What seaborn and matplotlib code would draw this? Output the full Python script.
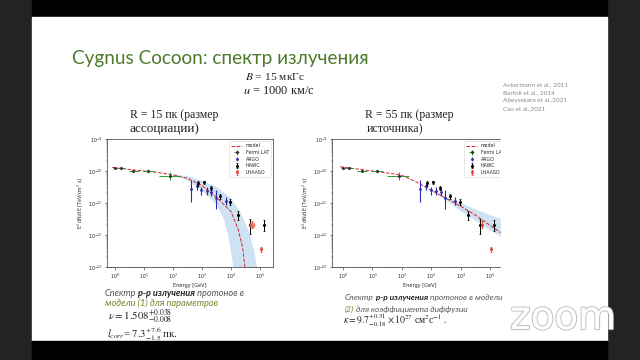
import numpy as np
import pandas as pd
import matplotlib
matplotlib.use("Agg")
import matplotlib.pyplot as plt
import seaborn as sns
from matplotlib.patches import Rectangle
from matplotlib.lines import Line2D
from matplotlib import patheffects as pe

sns.set_style("white")
plt.rcParams['font.family'] = ['Lato', 'DejaVu Sans']

# ---------------- data ----------------
fermi_E = [1.0, 1.6, 4.3, 14, 80]
fermi_Elo = [0.85, 1.25, 3.0, 9.0, 32]
fermi_Ehi = [1.25, 2.2, 6.5, 22, 180]
fermi_F = [1.26e-10, 1.2e-10, 1.0e-10, 1.0e-10, 6.9e-11]
fermi_Flo = [1.18e-10, 1.12e-10, 0.93e-10, 0.88e-10, 5.3e-11]
fermi_Fhi = [1.34e-10, 1.28e-10, 1.08e-10, 1.14e-10, 9.0e-11]

argo_E = [400, 660, 950, 1450, 2100, 2950, 6600]
argo_F = [2.8e-11, 3.4e-11, 2.5e-11, 2.4e-11, 2.2e-11, 1.4e-11, 1.17e-11]
argo_Flo = [1.05e-11, 2.5e-11, 1.8e-11, 1.8e-11, 1.7e-11, 6.5e-12, 8.5e-12]
argo_Fhi = [5.2e-11, 4.3e-11, 3.2e-11, 3.1e-11, 2.7e-11, 2.5e-11, 1.5e-11]

hawc_E = [710, 1170, 2000, 4300, 9300, 18000, 44000, 132000]
hawc_F = [4.1e-11, 4.4e-11, 3.0e-11, 1.6e-11, 1.07e-11, 4.3e-12, 2.1e-12, 2.0e-12]
hawc_Flo = [3.4e-11, 3.8e-11, 2.6e-11, 1.35e-11, 8.8e-12, 3.0e-12, 1.05e-12, 1.3e-12]
hawc_Fhi = [4.8e-11, 5.0e-11, 3.5e-11, 1.9e-11, 1.3e-11, 5.8e-12, 3.2e-12, 3.0e-12]

lhaaso_E = [54000, 105000]
lhaaso_F = [2.1e-12, 3.6e-13]
lhaaso_Flo = [1.6e-12, 3.0e-13]
lhaaso_Fhi = [2.7e-12, 4.3e-13]

# model 1 (R = 15 pc)
m1_E = [0.79, 1, 3.16, 10, 31.6, 100, 316, 1000, 3160, 10000, 17800, 25100, 30200, 35500]
m1_F = [1.29e-10, 1.26e-10, 1.12e-10, 1.0e-10, 8.9e-11, 7.6e-11, 5.9e-11, 3.5e-11,
        1.5e-11, 5.4e-12, 1.45e-12, 4.0e-13, 1.0e-13, 3.2e-14]
b1_up_E = [100, 316, 1000, 3160, 10000, 20000, 39800, 63100, 89100]
b1_up_F = [7.9e-11, 6.8e-11, 5.0e-11, 3.2e-11, 1.4e-11, 5.6e-12, 1.4e-12, 3.2e-13, 5.0e-14]
b1_lo_E = [100, 316, 1000, 3160, 5620, 7940, 11200, 14100]
b1_lo_F = [7.2e-11, 5.0e-11, 2.5e-11, 8.9e-12, 3.2e-12, 1.0e-12, 1.6e-13, 3.2e-14]

# model 2 (R = 55 pc)
m2_E = [0.79, 1, 3.16, 10, 31.6, 100, 316, 1000, 3160, 10000, 31600, 100000, 282000]
m2_F = [1.35e-10, 1.32e-10, 1.15e-10, 1.0e-10, 8.7e-11, 7.4e-11, 4.5e-11, 2.5e-11,
        1.41e-11, 7.9e-12, 4.2e-12, 2.0e-12, 1.05e-12]
b2_up_E = [1000, 3160, 10000, 31600, 100000, 282000]
b2_up_F = [2.5e-11, 1.58e-11, 1.0e-11, 6.3e-12, 4.2e-12, 3.0e-12]
b2_lo_E = [1000, 3160, 10000, 31600, 100000, 282000]
b2_lo_F = [2.5e-11, 1.26e-11, 5.6e-12, 2.8e-12, 1.4e-12, 8.0e-13]

legend_labels = ["model", "Fermi LAT", "ARGO", "HAWC", "LHAASO"]

# ---------------- figure ----------------
W, H = 640, 360
fig = plt.figure(figsize=(6.4, 3.6), dpi=100)
fig.patch.set_facecolor('#232323')


def fx(x):
    return x / W


def fy(y):
    return 1 - y / H


fig.add_artist(Rectangle((fx(32), 0), (607 - 32) / W, 1, transform=fig.transFigure,
                         color='black', zorder=-3))
fig.add_artist(Rectangle((fx(32), fy(341)), (607 - 32) / W, (341 - 17) / H,
                         transform=fig.transFigure, color='white', zorder=-2))

C_MODEL = '#d62728'
C_FERMI = '#2b9a2b'
C_ARGO = '#2a2ab5'
C_HAWC = 'black'
C_LHAASO = '#e8402f'
C_BAND = '#c9dff2'


def err(vals, lo, hi):
    v = np.asarray(vals)
    return [v - np.asarray(lo), np.asarray(hi) - v]


def panel(ax, mE, mF, bupE, bupF, bloE, bloF, xlim, big_red):
    ax.set_xscale('log')
    ax.set_yscale('log')
    ax.fill(list(bupE) + list(bloE)[::-1], list(bupF) + list(bloF)[::-1],
            color=C_BAND, lw=0, alpha=0.9, zorder=1)
    sns.lineplot(x=mE, y=mF, ax=ax, color=C_MODEL, linestyle='--', lw=0.7, zorder=3,
                 estimator=None, sort=False)
    hf = ax.errorbar(fermi_E, fermi_F, yerr=err(fermi_F, fermi_Flo, fermi_Fhi),
                     xerr=err(fermi_E, fermi_Elo, fermi_Ehi), fmt='o', ms=1.2,
                     color=C_FERMI, mfc='#333333', mec='#333333', elinewidth=0.7, capsize=0, zorder=4)
    ha = ax.errorbar(argo_E, argo_F, yerr=err(argo_F, argo_Flo, argo_Fhi), fmt='o', ms=1.0,
                     color=C_ARGO, elinewidth=0.8, capsize=0, zorder=4)
    hh = ax.errorbar(hawc_E, hawc_F, yerr=err(hawc_F, hawc_Flo, hawc_Fhi), fmt='o', ms=1.2,
                     color=C_HAWC, elinewidth=0.7, capsize=0.8, capthick=0.5, zorder=5)
    hl = ax.errorbar(lhaaso_E, lhaaso_F, yerr=err(lhaaso_F, lhaaso_Flo, lhaaso_Fhi), fmt='o',
                     ms=1.2, color=C_LHAASO, elinewidth=0.7, capsize=0.8, capthick=0.5, zorder=5)
    if big_red:
        sns.scatterplot(x=lhaaso_E[:1], y=lhaaso_F[:1], ax=ax, s=14, color='#f08070',
                        edgecolor=C_LHAASO, linewidth=0.4, alpha=0.8, zorder=6)
    ax.set_xlim(*xlim)
    ax.set_ylim(1e-13, 1e-9)
    ax.set_xlabel('Energy [GeV]', fontsize=3.6, labelpad=1.5, family='DejaVu Sans')
    ax.set_ylabel('E$^2$ dN/dE [TeV/cm$^2$ s]', fontsize=3.4, labelpad=1.5, family='DejaVu Sans')
    ax.tick_params(axis='both', which='major', labelsize=3.4, length=1.8, width=0.4, pad=1.5,
                   direction='out', bottom=True, left=True)
    ax.tick_params(axis='both', which='minor', length=1.0, width=0.3, bottom=True, left=True)
    for lab in ax.get_xticklabels() + ax.get_yticklabels():
        lab.set_family('DejaVu Sans')
    for s in ax.spines.values():
        s.set_linewidth(0.5)
        s.set_color('#333333')
    mh = Line2D([], [], color=C_MODEL, linestyle='--', lw=0.7)
    leg = ax.legend([mh, hf, ha, hh, hl], legend_labels, loc='upper right', fontsize=3.4,
                    frameon=True, borderpad=0.4, handlelength=2.2, labelspacing=0.35,
                    prop={'family': 'DejaVu Sans', 'size': 3.4})
    leg.get_frame().set_linewidth(0.4)
    leg.get_frame().set_edgecolor('#cccccc')


ax1 = fig.add_axes([fx(107), fy(267), (273 - 107) / W, (267 - 139) / H])
panel(ax1, m1_E, m1_F, b1_up_E, b1_up_F, b1_lo_E, b1_lo_F, (0.525, 2.8e5), True)
ax2 = fig.add_axes([fx(332), fy(267), (508 - 332) / W, (267 - 139) / H])
panel(ax2, m2_E, m2_F, b2_up_E, b2_up_F, b2_lo_E, b2_lo_F, (0.42, 4.1e5), False)

# crop of the right image (legend and frame cut off in the slide)
fig.add_artist(Rectangle((fx(501), fy(292)), (606 - 501) / W, (292 - 125) / H,
                         transform=fig.transFigure, color='white', zorder=40))

renderer = fig.canvas.get_renderer()


def runs(x, y, pieces, width=None, size=8):
    texts = []
    for s, kw in pieces:
        t = fig.text(0, 0, s, fontsize=size, va='baseline', ha='left', zorder=45, **kw)
        texts.append(t)

    def layout():
        cur = x
        for t in texts:
            t.set_position((fx(cur), fy(y)))
            cur += t.get_window_extent(renderer).width
        return cur - x

    w = layout()
    if width:
        f = width / w
        for t in texts:
            t.set_fontsize(t.get_fontsize() * f)
        layout()
    return texts


GREEN_T = '#4e7a2c'
OLIVE = '#73872e'
GRAY = '#555555'
SERIF = dict(family=['Liberation Serif', 'DejaVu Serif'], color='#222222')
SERIF_M = dict(family=['Liberation Serif', 'DejaVu Serif'], color='#222222', math_fontfamily='stix')
IT = dict(style='italic', color=GRAY)
BIT = dict(style='italic', weight='bold', color='#222222')

runs(72, 64, [("Cygnus Cocoon: спектр излучения", dict(color=GREEN_T))], width=298)
runs(245, 80, [("$B$ = 15 мкГс", SERIF_M)], width=60)
runs(243, 94, [("$u$ = 1000 км/с", SERIF_M)], width=72)

refs = ["Ackermann et al., 2011", "Bartoli et al., 2014", "Abeysekara et al.,2021", "Cao et al.,2021"]
for i, r in enumerate(refs):
    runs(503, 86 + 8 * i, [(r, dict(color='#8a8a8a'))], size=4.6)

runs(130, 118, [("R = 15 пк (размер", SERIF)], size=8.5)
runs(130, 132, [("ассоциации)", SERIF)], width=70)
runs(365, 118, [("R = 55 пк (размер", SERIF)], size=8.5)
runs(367, 132, [("источника)", SERIF)], width=56)

runs(105, 296, [("Спектр", IT), (" p-p излучения", BIT), (" протонов в", IT)], width=139)
runs(105, 306, [("модели (1) для параметров", dict(style='italic', color=OLIVE))], width=113)
runs(108, 319.5, [(r"$\nu = 1.508^{+0.038}_{-0.008}$", SERIF_M)], width=64)
runs(107, 338, [(r"$l_{corr}$= $7.3^{+7.6}_{-1.5}$ пк.", SERIF_M)], width=71)

runs(345, 300, [("Спектр", IT), (" p-p излучения", BIT), (" протонов в модели", IT)], width=158)
runs(345, 312, [("(2)", dict(style='italic', color=OLIVE)), (" для коэффициента диффузии", IT)], width=123)
runs(343, 324, [(r"$\kappa = 9.7^{+0.31}_{-0.18} \times 10^{27}$ см$^2$с$^{-1}$ .", SERIF_M)], width=104)

# bottom black strip over everything
fig.add_artist(Rectangle((fx(32), 0), (607 - 32) / W, (360 - 341) / H,
                         transform=fig.transFigure, color='black', zorder=60))

# zoom watermark
zt = fig.text(fx(563), fy(329), "zoom", fontsize=28, ha='center', va='baseline',
              color='white', alpha=0.9, family='DejaVu Sans', zorder=70)
zt.set_path_effects([pe.withStroke(linewidth=1.6, foreground='#bbbbbb'), pe.Normal()])

fig.savefig("out.png", dpi=100, facecolor=fig.get_facecolor())
